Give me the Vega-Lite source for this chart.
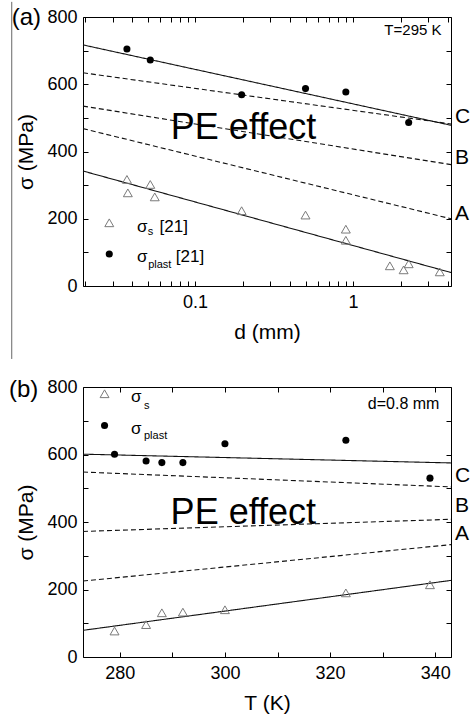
{
  "$schema": "https://vega.github.io/schema/vega-lite/v6.json",
  "background": "white",
  "padding": {"left": 8, "top": 0, "right": 0, "bottom": 0},
  "bounds": "flush",
  "spacing": 101,
  "config": {
    "font": "Liberation Sans",
    "view": {"stroke": "black", "strokeWidth": 1},
    "axis": {"grid": false, "domain": false, "tickColor": "black", "labelColor": "black", "titleColor": "black", "labelFont": "Liberation Sans", "titleFont": "Liberation Sans", "titleFontWeight": "normal", "labelFlush": false, "labelOverlap": false},
    "text": {"font": "Liberation Sans", "color": "black"}
  },
  "datasets": {
    "a_lines": [
      {"id": "fitP", "kind": "fit", "d": 0.0195, "sigma": 717}, {"id": "fitP", "kind": "fit", "d": 4.17, "sigma": 478},
      {"id": "C", "kind": "limit", "d": 0.0195, "sigma": 634}, {"id": "C", "kind": "limit", "d": 4.17, "sigma": 482},
      {"id": "B", "kind": "limit", "d": 0.0195, "sigma": 535}, {"id": "B", "kind": "limit", "d": 4.17, "sigma": 361},
      {"id": "A", "kind": "limit", "d": 0.0195, "sigma": 468}, {"id": "A", "kind": "limit", "d": 4.17, "sigma": 200},
      {"id": "fitS", "kind": "fit", "d": 0.0195, "sigma": 342}, {"id": "fitS", "kind": "fit", "d": 4.17, "sigma": 40}
    ],
    "a_pts": [
      {"series": "plast", "d": 0.037, "sigma": 705}, {"series": "plast", "d": 0.052, "sigma": 672},
      {"series": "plast", "d": 0.197, "sigma": 569}, {"series": "plast", "d": 0.5, "sigma": 587},
      {"series": "plast", "d": 0.9, "sigma": 577}, {"series": "plast", "d": 2.25, "sigma": 486},
      {"series": "plast", "d": 0.0286, "sigma": 95},
      {"series": "s", "d": 0.037, "sigma": 317}, {"series": "s", "d": 0.0375, "sigma": 277},
      {"series": "s", "d": 0.052, "sigma": 302}, {"series": "s", "d": 0.0555, "sigma": 265},
      {"series": "s", "d": 0.197, "sigma": 224}, {"series": "s", "d": 0.5, "sigma": 211},
      {"series": "s", "d": 0.9, "sigma": 169}, {"series": "s", "d": 0.9, "sigma": 136},
      {"series": "s", "d": 1.71, "sigma": 60}, {"series": "s", "d": 2.09, "sigma": 48},
      {"series": "s", "d": 2.25, "sigma": 66}, {"series": "s", "d": 3.54, "sigma": 42},
      {"series": "s", "d": 0.0286, "sigma": 188}
    ],
    "a_edge": [{"d": 0.0069, "sigma": 845, "sigma2": -217}],
    "a_text": [
      {"role": "panel", "t": "(a)", "d": 0.00855, "sigma": 798},
      {"role": "big", "t": "PE effect", "d": 0.2026, "sigma": 436},
      {"role": "note", "t": "T=295 K", "d": 3.63, "sigma": 745},
      {"role": "end", "t": "C", "d": 4.17, "sigma": 502},
      {"role": "end", "t": "B", "d": 4.17, "sigma": 381},
      {"role": "end", "t": "A", "d": 4.17, "sigma": 215},
      {"role": "leg", "t": "σ", "d": 0.0428, "sigma": 161},
      {"role": "leg", "t": "[21]", "d": 0.0595, "sigma": 161},
      {"role": "leg", "t": "σ", "d": 0.0428, "sigma": 71},
      {"role": "leg", "t": "[21]", "d": 0.0755, "sigma": 71},
      {"role": "sub", "t": "s", "d": 0.0501, "sigma": 151},
      {"role": "sub", "t": "plast", "d": 0.0504, "sigma": 53}
    ],
    "b_lines": [
      {"id": "fitP", "kind": "fit", "T": 273, "sigma": 601}, {"id": "fitP", "kind": "fit", "T": 343, "sigma": 575},
      {"id": "C", "kind": "limit", "T": 273, "sigma": 548}, {"id": "C", "kind": "limit", "T": 343, "sigma": 504},
      {"id": "B", "kind": "limit", "T": 273, "sigma": 372}, {"id": "B", "kind": "limit", "T": 343, "sigma": 408},
      {"id": "A", "kind": "limit", "T": 273, "sigma": 225}, {"id": "A", "kind": "limit", "T": 343, "sigma": 333},
      {"id": "fitS", "kind": "fit", "T": 273, "sigma": 79}, {"id": "fitS", "kind": "fit", "T": 343, "sigma": 227}
    ],
    "b_pts": [
      {"series": "plast", "T": 279, "sigma": 601}, {"series": "plast", "T": 285, "sigma": 581},
      {"series": "plast", "T": 288, "sigma": 576}, {"series": "plast", "T": 292, "sigma": 576},
      {"series": "plast", "T": 300, "sigma": 632}, {"series": "plast", "T": 323, "sigma": 642},
      {"series": "plast", "T": 339, "sigma": 530},
      {"series": "plast", "T": 277.1, "sigma": 686},
      {"series": "s", "T": 279, "sigma": 77}, {"series": "s", "T": 285, "sigma": 96},
      {"series": "s", "T": 288, "sigma": 131}, {"series": "s", "T": 292, "sigma": 133},
      {"series": "s", "T": 300, "sigma": 140}, {"series": "s", "T": 323, "sigma": 190},
      {"series": "s", "T": 339, "sigma": 214},
      {"series": "s", "T": 277.1, "sigma": 780}
    ],
    "b_text": [
      {"role": "panel", "t": "(b)", "T": 261.7, "sigma": 790},
      {"role": "big", "t": "PE effect", "T": 303.5, "sigma": 395},
      {"role": "note", "t": "d=0.8 mm", "T": 340.8, "sigma": 734},
      {"role": "end", "t": "C", "T": 343, "sigma": 536},
      {"role": "end", "t": "B", "T": 343, "sigma": 448},
      {"role": "end", "t": "A", "T": 343, "sigma": 363},
      {"role": "leg", "t": "σ", "T": 282.15, "sigma": 755},
      {"role": "leg", "t": "σ", "T": 282.15, "sigma": 662},
      {"role": "sub", "t": "s", "T": 284.6, "sigma": 736},
      {"role": "sub", "t": "plast", "T": 284.6, "sigma": 645}
    ]
  },
  "vconcat": [
    {
      "width": 368,
      "height": 269,
      "resolve": {"axis": {"x": "independent", "y": "independent"}},
      "layer": [
        {
          "data": {"name": "a_lines"},
          "mark": {"type": "line", "strokeWidth": 1.1, "color": "#111"},
          "encoding": {
            "x": {"field": "d", "type": "quantitative", "scale": {"type": "log", "domain": [0.0195, 4.17], "nice": false},
              "axis": {"orient": "bottom", "values": [0.02, 0.03, 0.04, 0.05, 0.06, 0.07, 0.08, 0.09, 0.1, 0.2, 0.3, 0.4, 0.5, 0.6, 0.7, 0.8, 0.9, 1, 2, 3, 4],
                "labelExpr": "datum.value == 0.1 ? '0.1' : (datum.value == 1 ? '1' : '')",
                "tickSize": -5, "labelPadding": 12, "labelFontSize": 18, "title": "d (mm)", "titleFontSize": 21, "titlePadding": 10}},
            "y": {"field": "sigma", "type": "quantitative", "scale": {"domain": [0, 800], "nice": false},
              "axis": {"orient": "left", "values": [0, 100, 200, 300, 400, 500, 600, 700, 800],
                "labelExpr": "datum.value % 200 == 0 ? datum.label : ''",
                "tickSize": -5, "labelPadding": 11, "labelFontSize": 18, "title": "σ (MPa)", "titleFontSize": 21, "titlePadding": 10}},
            "detail": {"field": "id"},
            "strokeDash": {"field": "kind", "type": "nominal", "scale": {"domain": ["fit", "limit"], "range": [[1, 0], [5, 3]]}, "legend": null}
          }
        },
        {
          "data": {"name": "a_pts"},
          "transform": [{"filter": "datum.series == 's'"}],
          "mark": {"type": "point", "shape": "triangle-up", "filled": false, "stroke": "#7a7a7a", "strokeWidth": 1, "size": 80, "opacity": 1},
          "encoding": {
            "x": {"field": "d", "type": "quantitative", "scale": {"type": "log", "domain": [0.0195, 4.17], "nice": false},
              "axis": {"orient": "top", "values": [0.02, 0.03, 0.04, 0.05, 0.06, 0.07, 0.08, 0.09, 0.1, 0.2, 0.3, 0.4, 0.5, 0.6, 0.7, 0.8, 0.9, 1, 2, 3, 4], "labels": false, "tickSize": -5, "title": null}},
            "y": {"field": "sigma", "type": "quantitative", "scale": {"domain": [0, 800], "nice": false},
              "axis": {"orient": "right", "values": [0, 100, 200, 300, 400, 500, 600, 700, 800], "labels": false, "tickSize": -5, "title": null}}
          }
        },
        {
          "data": {"name": "a_pts"},
          "transform": [{"filter": "datum.series == 'plast'"}],
          "mark": {"type": "point", "shape": "circle", "filled": true, "color": "black", "size": 50, "opacity": 1},
          "encoding": {
            "x": {"field": "d", "type": "quantitative", "axis": null},
            "y": {"field": "sigma", "type": "quantitative", "axis": null}
          }
        },
        {
          "data": {"name": "a_edge"},
          "mark": {"type": "rule", "color": "#666", "strokeWidth": 1},
          "encoding": {
            "x": {"field": "d", "type": "quantitative", "axis": null},
            "y": {"field": "sigma", "type": "quantitative", "axis": null},
            "y2": {"field": "sigma2"}
          }
        },
        {
          "data": {"name": "a_text"},
          "transform": [{"filter": "datum.role == 'panel'"}],
          "mark": {"type": "text", "fontSize": 24, "align": "center", "baseline": "middle"},
          "encoding": {"x": {"field": "d", "type": "quantitative", "axis": null}, "y": {"field": "sigma", "type": "quantitative", "axis": null}, "text": {"field": "t"}}
        },
        {
          "data": {"name": "a_text"},
          "transform": [{"filter": "datum.role == 'big'"}],
          "mark": {"type": "text", "fontSize": 36, "align": "center", "baseline": "alphabetic"},
          "encoding": {"x": {"field": "d", "type": "quantitative", "axis": null}, "y": {"field": "sigma", "type": "quantitative", "axis": null}, "text": {"field": "t"}}
        },
        {
          "data": {"name": "a_text"},
          "transform": [{"filter": "datum.role == 'note'"}],
          "mark": {"type": "text", "fontSize": 15, "align": "right", "baseline": "alphabetic"},
          "encoding": {"x": {"field": "d", "type": "quantitative", "axis": null}, "y": {"field": "sigma", "type": "quantitative", "axis": null}, "text": {"field": "t"}}
        },
        {
          "data": {"name": "a_text"},
          "transform": [{"filter": "datum.role == 'end'"}],
          "mark": {"type": "text", "fontSize": 21, "align": "left", "baseline": "middle", "dx": 4},
          "encoding": {"x": {"field": "d", "type": "quantitative", "axis": null}, "y": {"field": "sigma", "type": "quantitative", "axis": null}, "text": {"field": "t"}}
        },
        {
          "data": {"name": "a_text"},
          "transform": [{"filter": "datum.role == 'leg'"}],
          "mark": {"type": "text", "fontSize": 17, "align": "left", "baseline": "alphabetic"},
          "encoding": {"x": {"field": "d", "type": "quantitative", "axis": null}, "y": {"field": "sigma", "type": "quantitative", "axis": null}, "text": {"field": "t"}}
        },
        {
          "data": {"name": "a_text"},
          "transform": [{"filter": "datum.role == 'sub'"}],
          "mark": {"type": "text", "fontSize": 11, "align": "left", "baseline": "alphabetic"},
          "encoding": {"x": {"field": "d", "type": "quantitative", "axis": null}, "y": {"field": "sigma", "type": "quantitative", "axis": null}, "text": {"field": "t"}}
        }
      ]
    },
    {
      "width": 368,
      "height": 270,
      "resolve": {"axis": {"x": "independent", "y": "independent"}},
      "layer": [
        {
          "data": {"name": "b_lines"},
          "mark": {"type": "line", "strokeWidth": 1.1, "color": "#111"},
          "encoding": {
            "x": {"field": "T", "type": "quantitative", "scale": {"domain": [273, 343], "nice": false, "zero": false},
              "axis": {"orient": "bottom", "values": [280, 290, 300, 310, 320, 330, 340],
                "labelExpr": "datum.value % 20 == 0 ? datum.label : ''",
                "tickSize": -5, "labelPadding": 12, "labelFontSize": 18, "title": "T (K)", "titleFontSize": 21, "titlePadding": 10}},
            "y": {"field": "sigma", "type": "quantitative", "scale": {"domain": [0, 800], "nice": false},
              "axis": {"orient": "left", "values": [0, 100, 200, 300, 400, 500, 600, 700, 800],
                "labelExpr": "datum.value % 200 == 0 ? datum.label : ''",
                "tickSize": -5, "labelPadding": 11, "labelFontSize": 18, "title": "σ (MPa)", "titleFontSize": 21, "titlePadding": 10}},
            "detail": {"field": "id"},
            "strokeDash": {"field": "kind", "type": "nominal", "scale": {"domain": ["fit", "limit"], "range": [[1, 0], [7, 3]]}, "legend": null}
          }
        },
        {
          "data": {"name": "b_pts"},
          "transform": [{"filter": "datum.series == 's'"}],
          "mark": {"type": "point", "shape": "triangle-up", "filled": false, "stroke": "#7a7a7a", "strokeWidth": 1, "size": 80, "opacity": 1},
          "encoding": {
            "x": {"field": "T", "type": "quantitative", "scale": {"domain": [273, 343], "nice": false, "zero": false},
              "axis": {"orient": "top", "values": [280, 290, 300, 310, 320, 330, 340], "labels": false, "tickSize": -5, "title": null}},
            "y": {"field": "sigma", "type": "quantitative", "scale": {"domain": [0, 800], "nice": false},
              "axis": {"orient": "right", "values": [0, 100, 200, 300, 400, 500, 600, 700, 800], "labels": false, "tickSize": -5, "title": null}}
          }
        },
        {
          "data": {"name": "b_pts"},
          "transform": [{"filter": "datum.series == 'plast'"}],
          "mark": {"type": "point", "shape": "circle", "filled": true, "color": "black", "size": 50, "opacity": 1},
          "encoding": {
            "x": {"field": "T", "type": "quantitative", "axis": null},
            "y": {"field": "sigma", "type": "quantitative", "axis": null}
          }
        },
        {
          "data": {"name": "b_text"},
          "transform": [{"filter": "datum.role == 'panel'"}],
          "mark": {"type": "text", "fontSize": 24, "align": "center", "baseline": "middle"},
          "encoding": {"x": {"field": "T", "type": "quantitative", "axis": null}, "y": {"field": "sigma", "type": "quantitative", "axis": null}, "text": {"field": "t"}}
        },
        {
          "data": {"name": "b_text"},
          "transform": [{"filter": "datum.role == 'big'"}],
          "mark": {"type": "text", "fontSize": 36, "align": "center", "baseline": "alphabetic"},
          "encoding": {"x": {"field": "T", "type": "quantitative", "axis": null}, "y": {"field": "sigma", "type": "quantitative", "axis": null}, "text": {"field": "t"}}
        },
        {
          "data": {"name": "b_text"},
          "transform": [{"filter": "datum.role == 'note'"}],
          "mark": {"type": "text", "fontSize": 16, "align": "right", "baseline": "alphabetic"},
          "encoding": {"x": {"field": "T", "type": "quantitative", "axis": null}, "y": {"field": "sigma", "type": "quantitative", "axis": null}, "text": {"field": "t"}}
        },
        {
          "data": {"name": "b_text"},
          "transform": [{"filter": "datum.role == 'end'"}],
          "mark": {"type": "text", "fontSize": 21, "align": "left", "baseline": "middle", "dx": 4},
          "encoding": {"x": {"field": "T", "type": "quantitative", "axis": null}, "y": {"field": "sigma", "type": "quantitative", "axis": null}, "text": {"field": "t"}}
        },
        {
          "data": {"name": "b_text"},
          "transform": [{"filter": "datum.role == 'leg'"}],
          "mark": {"type": "text", "fontSize": 17, "align": "left", "baseline": "alphabetic"},
          "encoding": {"x": {"field": "T", "type": "quantitative", "axis": null}, "y": {"field": "sigma", "type": "quantitative", "axis": null}, "text": {"field": "t"}}
        },
        {
          "data": {"name": "b_text"},
          "transform": [{"filter": "datum.role == 'sub'"}],
          "mark": {"type": "text", "fontSize": 11, "align": "left", "baseline": "alphabetic"},
          "encoding": {"x": {"field": "T", "type": "quantitative", "axis": null}, "y": {"field": "sigma", "type": "quantitative", "axis": null}, "text": {"field": "t"}}
        }
      ]
    }
  ]
}
